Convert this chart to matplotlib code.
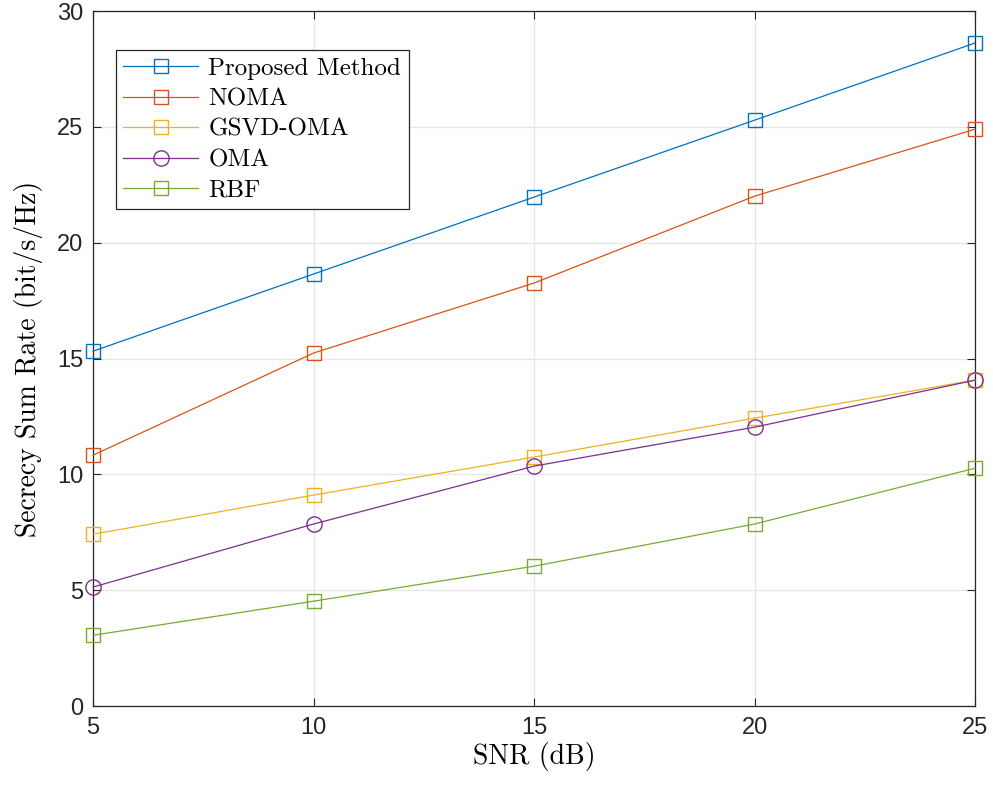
import matplotlib.pyplot as plt

snr = [5, 10, 15, 20, 25]
proposed = [15.32, 18.65, 21.97, 25.29, 28.62]
noma = [10.83, 15.24, 18.26, 22.01, 24.90]
gsvd_oma = [7.42, 9.11, 10.75, 12.43, 14.07]
oma = [5.14, 7.86, 10.36, 12.04, 14.07]
rbf = [3.06, 4.53, 6.04, 7.86, 10.27]

series = [
    ("Proposed Method", proposed, "#0072BD", "s"),
    ("NOMA", noma, "#D95319", "s"),
    ("GSVD-OMA", gsvd_oma, "#EDB120", "s"),
    ("OMA", oma, "#7E2F8E", "o"),
    ("RBF", rbf, "#77AC30", "s"),
]

fig = plt.figure(figsize=(9.93, 7.89), dpi=100)
ax = fig.add_axes([0.0937, 0.105, 0.8882, 0.881])

for name, vals, col, mk in series:
    ax.plot(snr, vals, color=col, marker=mk, markerfacecolor="none",
            markersize=11 if mk == "o" else 9.5, linewidth=0.9,
            markeredgewidth=1.0, label=name, clip_on=False, zorder=3)

ax.set_xlim(5, 25)
ax.set_ylim(0, 30)
ax.set_xticks([5, 10, 15, 20, 25])
ax.set_yticks([0, 5, 10, 15, 20, 25, 30])
ax.grid(True, color="#e6e6e6", linewidth=0.9)
ax.set_axisbelow(True)
ax.tick_params(direction="in", top=True, right=True, labelsize=17,
               length=6, width=0.8, colors="#262626", labelcolor="#262626")
ax.tick_params(axis="x", pad=8)
ax.tick_params(axis="y", pad=7)
for lbl in ax.get_xticklabels() + ax.get_yticklabels():
    lbl.set_fontfamily("Liberation Sans")
for s in ax.spines.values():
    s.set_color("#262626")
    s.set_linewidth(0.9)

ax.set_xlabel("SNR (dB)", fontfamily="cmr10", fontsize=20, labelpad=2)
ax.set_ylabel("Secrecy Sum Rate (bit/s/Hz)", fontfamily="cmr10", fontsize=20, labelpad=10)

leg = ax.legend(loc="upper left", bbox_to_anchor=(0.026, 0.944), borderaxespad=0,
                prop={"family": "cmr10", "size": 18}, fancybox=False,
                edgecolor="#262626", framealpha=1, borderpad=0.3,
                labelspacing=0.32, handlelength=3.0, handletextpad=0.4)
leg.get_frame().set_linewidth(0.9)

fig.savefig("out.png", dpi=100)
